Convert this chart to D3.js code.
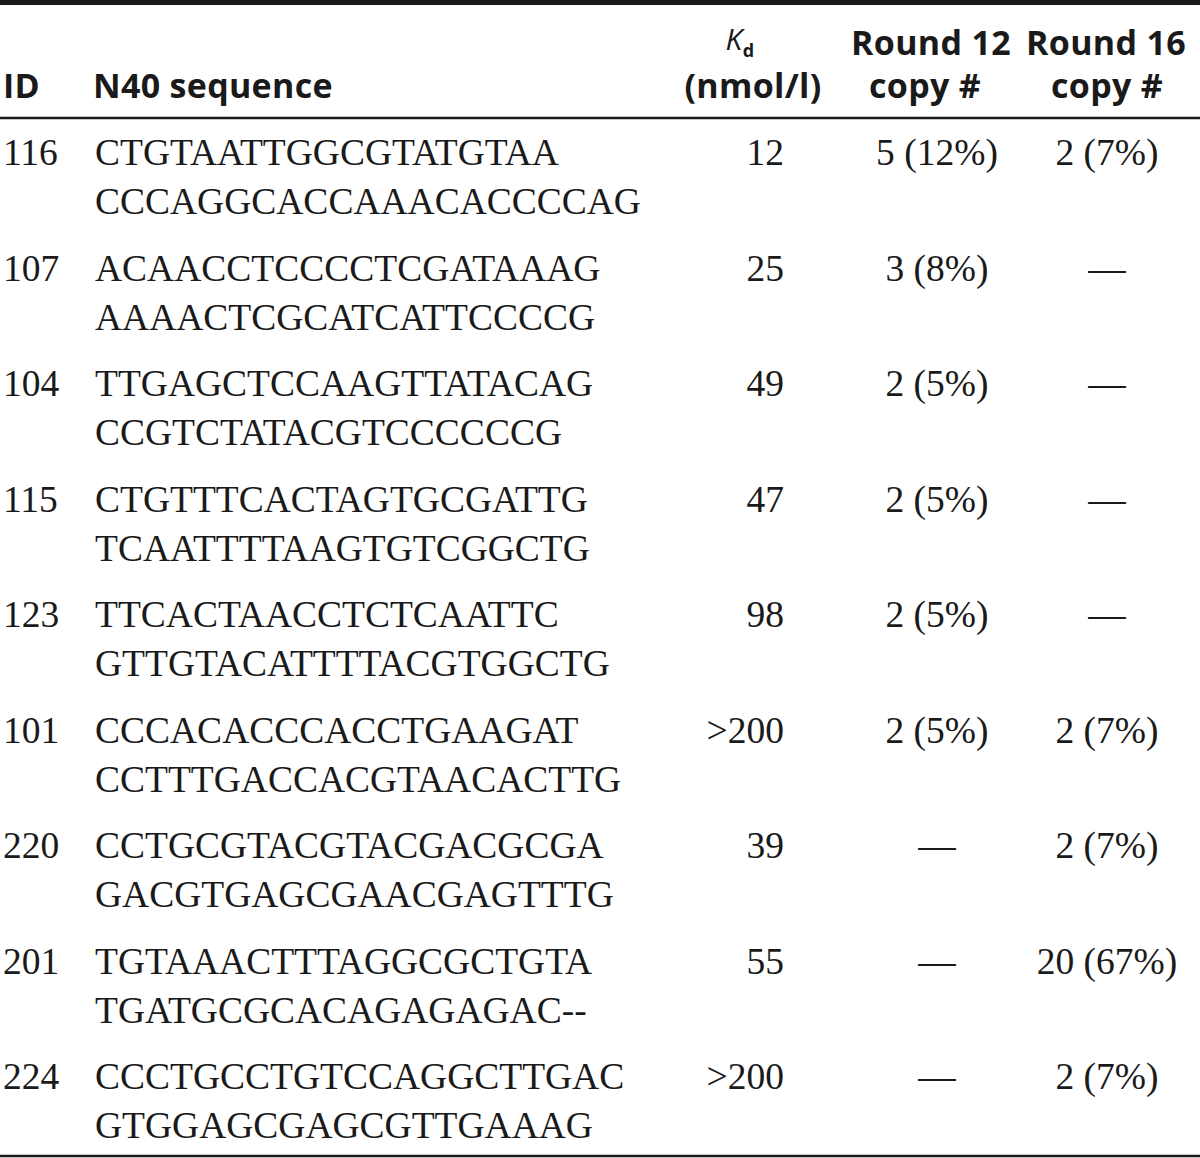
<!DOCTYPE html>
<html lang="en">
<head>
<meta charset="UTF-8">
<title>Aptamer table</title>
<script src="https://d3js.org/d3.v7.min.js"></script>
<style>
  body { margin: 0; background: #fff; }
  .head { font-family: "Open Sans", sans-serif; font-weight: bold; font-size: 34px; letter-spacing: 0.3px; fill: #1a1a1a; }
  .cell { font-family: "Liberation Serif", serif; font-size: 37.5px; fill: #1a1a1a; }
</style>
</head>
<body>
<svg width="1200" height="1158"></svg>
<script>
// table content
const ids = ["116", "107", "104", "115", "123", "101", "220", "201", "224"];
const seqLine1 = ["CTGTAATTGGCGTATGTAA", "ACAACCTCCCCTCGATAAAG", "TTGAGCTCCAAGTTATACAG",
  "CTGTTTCACTAGTGCGATTG", "TTCACTAACCTCTCAATTC", "CCCACACCCACCTGAAGAT",
  "CCTGCGTACGTACGACGCGA", "TGTAAACTTTAGGCGCTGTA", "CCCTGCCTGTCCAGGCTTGAC"];
const seqLine2 = ["CCCAGGCACCAAACACCCCAG", "AAAACTCGCATCATTCCCCG", "CCGTCTATACGTCCCCCCG",
  "TCAATTTTAAGTGTCGGCTG", "GTTGTACATTTTACGTGGCTG", "CCTTTGACCACGTAACACTTG",
  "GACGTGAGCGAACGAGTTTG", "TGATGCGCACAGAGAGAC--", "GTGGAGCGAGCGTTGAAAG"];
const kd = ["12", "25", "49", "47", "98", ">200", "39", "55", ">200"];
const round12 = ["5 (12%)", "3 (8%)", "2 (5%)", "2 (5%)", "2 (5%)", "2 (5%)", "\u2014", "\u2014", "\u2014"];
const round16 = ["2 (7%)", "\u2014", "\u2014", "\u2014", "\u2014", "2 (7%)", "2 (7%)", "20 (67%)", "2 (7%)"];

const svg = d3.select("svg");
const W = 1200;

const rows = ids.map((id, i) => ({
  id: id, s1: seqLine1[i], s2: seqLine2[i], kd: kd[i], r12: round12[i], r16: round16[i]
}));

// vertical placement of the rows
const y = d3.scaleBand().domain(ids).range([120, 1160]);

// rules
svg.append("rect").attr("x", 0).attr("y", 0).attr("width", W).attr("height", 5).attr("fill", "#1a1a1a");
svg.append("line").attr("x1", 0).attr("x2", W).attr("y1", 118).attr("y2", 118)
  .attr("stroke", "#1a1a1a").attr("stroke-width", 2.5);
svg.append("line").attr("x1", 0).attr("x2", W).attr("y1", 1156).attr("y2", 1156)
  .attr("stroke", "#1a1a1a").attr("stroke-width", 2.5);

// header
const head = svg.append("g").attr("class", "head");
head.append("text").attr("x", 3).attr("y", 98).text("ID");
head.append("text").attr("x", 93).attr("y", 98).text("N40 sequence");

const kdHead = head.append("text").attr("x", 740).attr("y", 50).attr("text-anchor", "middle");
kdHead.append("tspan").attr("font-style", "italic").attr("font-weight", "normal").attr("font-size", 30).text("K");
kdHead.append("tspan").attr("dy", 7).attr("font-size", 18).text("d");
head.append("text").attr("x", 753).attr("y", 98).attr("text-anchor", "middle").text("(nmol/l)");

head.append("text").attr("x", 931).attr("y", 55).attr("text-anchor", "middle").text("Round 12");
head.append("text").attr("x", 925).attr("y", 98).attr("text-anchor", "middle").text("copy #");
head.append("text").attr("x", 1106).attr("y", 55).attr("text-anchor", "middle").text("Round 16");
head.append("text").attr("x", 1107).attr("y", 98).attr("text-anchor", "middle").text("copy #");

// body rows
const g = svg.selectAll(".row").data(rows).enter().append("g")
  .attr("class", "row cell")
  .attr("transform", d => "translate(0," + (y(d.id) + 45) + ")");

g.append("text").attr("x", 3).text(d => d.id);
g.append("text").attr("x", 95).text(d => d.s1);
g.append("text").attr("x", 95).attr("y", 49).text(d => d.s2);
g.append("text").attr("x", 784).attr("text-anchor", "end").text(d => d.kd);
g.append("text").attr("x", 937).attr("text-anchor", "middle").text(d => d.r12);
g.append("text").attr("x", 1107).attr("text-anchor", "middle").text(d => d.r16);
</script>
</body>
</html>
